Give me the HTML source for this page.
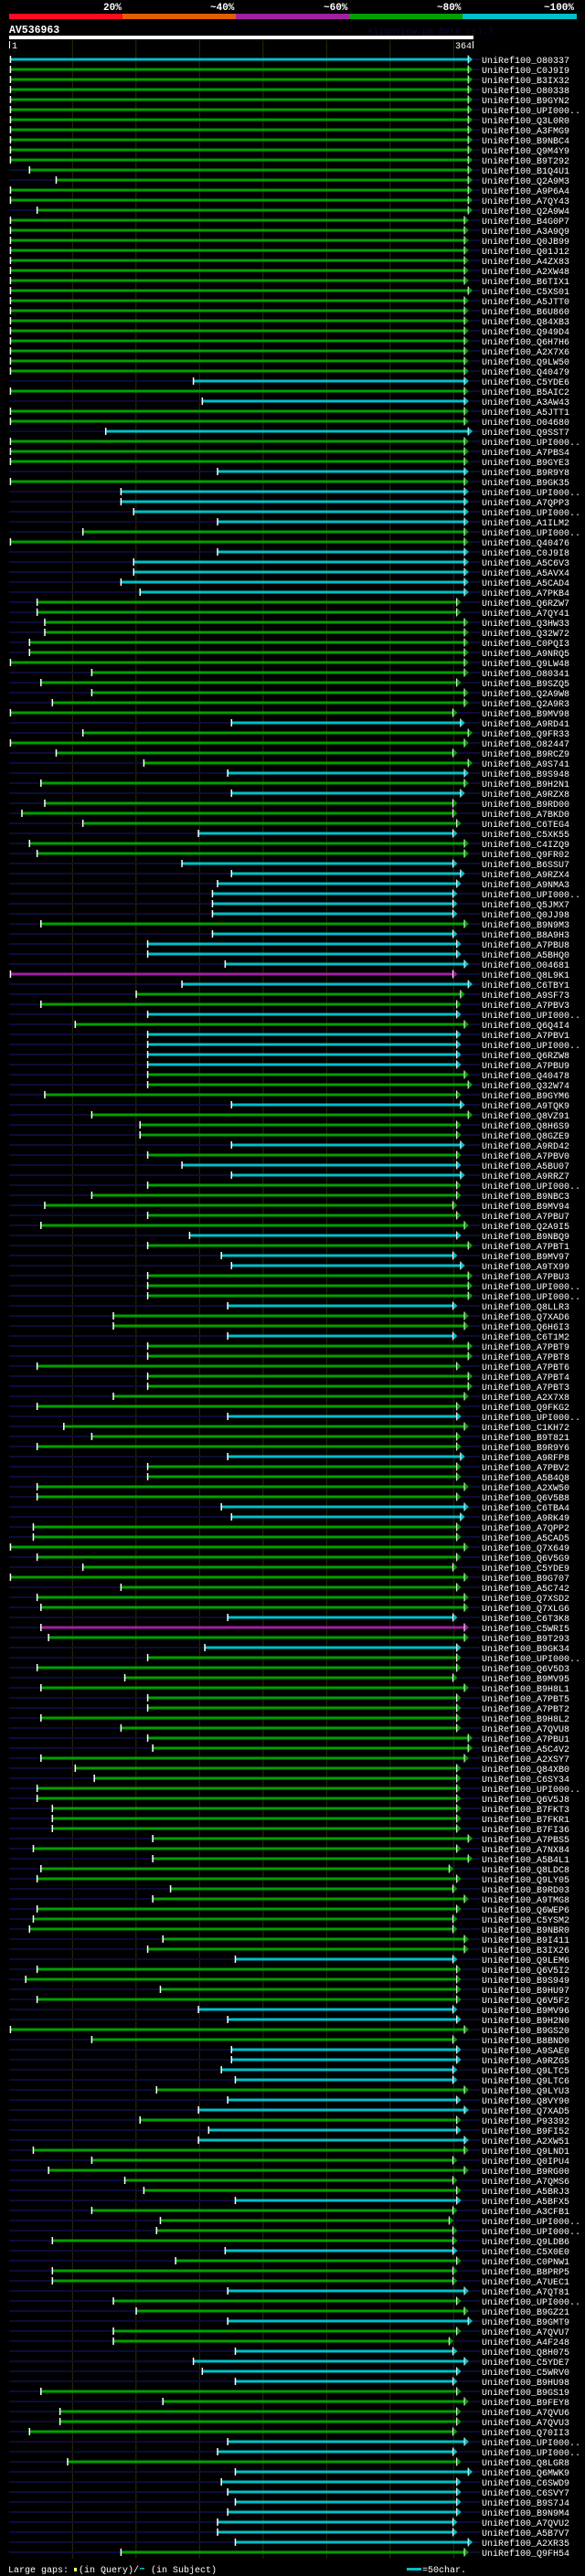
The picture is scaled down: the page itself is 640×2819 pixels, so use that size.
<!DOCTYPE html>
<html><head><meta charset="utf-8">
<style>
html,body{margin:0;padding:0;background:#000;}
body{width:640px;height:2819px;overflow:hidden;position:relative;}
svg{position:absolute;left:0;top:0;}
text{font-family:"Liberation Mono",monospace;}
</style></head>
<body>
<svg id="chart" width="640" height="2819" viewBox="0 0 640 2819" xmlns="http://www.w3.org/2000/svg">
  <rect x="0" y="0" width="640" height="2819" fill="#000"/>
  <g>
    <rect x="10" y="15" width="124" height="6" fill="#ff0a20"/>
    <rect x="134" y="15" width="124" height="6" fill="#e06000"/>
    <rect x="258" y="15" width="124" height="6" fill="#a020a0"/>
    <rect x="382" y="15" width="124" height="6" fill="#00a000"/>
    <rect x="506" y="15" width="125" height="6" fill="#00c0c8"/>
    <text x="113" y="11" fill="#fff" font-size="11" font-weight="bold">20%</text>
    <text x="230" y="11" fill="#fff" font-size="11" font-weight="bold">~40%</text>
    <text x="354" y="11" fill="#fff" font-size="11" font-weight="bold">~60%</text>
    <text x="478" y="11" fill="#fff" font-size="11" font-weight="bold">~80%</text>
    <text x="595" y="11" fill="#fff" font-size="11" font-weight="bold">~100%</text>
  </g>
  <text x="10" y="36" fill="#fff" font-size="11.5" font-weight="bold">AV536963</text>
  <text x="402" y="37" fill="#0a0a40" font-size="10">AlignView.pm Beta rel.7</text>
  <rect x="10" y="39" width="508" height="4" fill="#fff"/>
  <rect x="10" y="45" width="1" height="8" fill="#fff"/>
  <text x="13" y="53" fill="#fff" font-size="10">1</text>
  <text x="516" y="53" fill="#fff" font-size="10" text-anchor="end">364</text>
  <rect x="517" y="45" width="1" height="8" fill="#fff"/>
  <g id="grid"></g>
  <g id="rows"></g>
  <g>
    <text x="9" y="2815" fill="#fff" font-size="10">Large gaps:</text>
    <rect x="81" y="2810" width="3" height="4" fill="#ffff60"/>
    <text x="86" y="2815" fill="#fff" font-size="10">(in Query)/</text>
    <rect x="153" y="2810" width="5" height="1.5" fill="#00c0c8"/>
    <text x="165" y="2815" fill="#fff" font-size="10">(in Subject)</text>
    <rect x="445" y="2810" width="16" height="3" fill="#00c0c8"/>
    <text x="462" y="2815" fill="#fff" font-size="10">=50char.</text>
  </g>
</svg>
<script>
const names = ["O80337","C0J9I9","B3IX32","O80338","B9GYN2","UPI000..","Q3L0R0","A3FMG9","B9NBC4","Q9M4Y9","B9T292","B1Q4U1","Q2A9M3","A9P6A4","A7QY43","Q2A9W4","B4G0P7","A3A9Q9","Q0JB99","Q01J12","A4ZX83","A2XW48","B6TIX1","C5XS01","A5JTT0","B6U860","Q84XB3","Q949D4","Q6H7H6","A2X7X6","Q9LW50","Q40479","C5YDE6","B5AIC2","A3AW43","A5JTT1","O04680","Q9SST7","UPI000..","A7PBS4","B9GYE3",
"B9R9Y8","B9GK35","UPI000..","A7QPP3","UPI000..","A1ILM2","UPI000..","Q40476","C0J9I8","A5C6V3","A5AVX4","A5CAD4","A7PKB4","Q6RZW7","A7QY41","Q3HW33","Q32W72","C0PQI3","A9NRQ5","Q9LW48","O80341","B9SZQ5","Q2A9W8","Q2A9R3","B9MV98","A9RD41","Q9FR33","O82447","B9RCZ9","A9S741","B9S948","B9H2N1","A9RZX8","B9RD00","A7BKD0","C6TEG4","C5XK55","C4IZQ9","Q9FR02","B6SSU7","A9RZX4",
"A9NMA3","UPI000..","Q5JMX7","Q0JJ98","B9N9M3","B8A9H3","A7PBU8","A5BHQ0","O04681","Q8L9K1","C6TBY1","A9SF73","A7PBV3","UPI000..","Q6Q4I4","A7PBV1","UPI000..","Q6RZW8","A7PBU9","Q40478","Q32W74","B9GYM6","A9TQK9","Q8VZ91","Q8H6S9","Q8GZE9","A9RD42","A7PBV0","A5BU07","A9RRZ7","UPI000..","B9NBC3","B9MV94","A7PBU7","Q2A9I5","B9NBQ9","A7PBT1","B9MV97","A9TX99","A7PBU3","UPI000..","UPI000..",
"Q8LLR3","Q7XAD6","Q6H6I3","C6T1M2","A7PBT9","A7PBT8","A7PBT6","A7PBT4","A7PBT3","A2X7X8","Q9FKG2","UPI000..","C1KH72","B9T821","B9R9Y6","A9RFP8","A7PBV2","A5B4Q8","A2XW50","Q6V5B8","C6TBA4","A9RK49","A7QPP2","A5CAD5","Q7X649","Q6V5G9","C5YDE9","B9G707","A5C742","Q7XSD2","Q7XLG6","C6T3K8","C5WRI5","B9T293","B9GK34","UPI000..","Q6V5D3","B9MV95","B9H8L1","A7PBT5","A7PBT2",
"B9H8L2","A7QVU8","A7PBU1","A5C4V2","A2XSY7","Q84XB0","C6SY34","UPI000..","Q6V5J8","B7FKT3","B7FKR1","B7FI36","A7PBS5","A7NX84","A5B4L1","Q8LDC8","Q9LY05","B9RD03","A9TMG8","Q6WEP6","C5YSM2","B9NBR0","B9I411","B3IX26","Q9LEM6","Q6V5I2","B9S949","B9HU97","Q6V5F2","B9MV96","B9H2N0","B9GS20","B8BND0","A9SAE0","A9RZG5","Q9LTC5","Q9LTC6","Q9LYU3","Q8VY90","Q7XAD5","P93392","B9FI52",
"A2XW51","Q9LND1","Q0IPU4","B9RG00","A7QMS6","A5BRJ3","A5BFX5","A3CFB1","UPI000..","UPI000..","Q9LDB6","C5X0E0","C0PNW1","B8PRP5","A7UEC1","A7QT81","UPI000..","B9GZ21","B9GMT9","A7QVU7","A4F248","Q8H075","C5YDE7","C5WRV0","B9HU98","B9GS19","B9FEY8","A7QVU6","A7QVU3","Q70II3","UPI000..","UPI000..","Q8LGR8","Q6MWK9","C6SWD9","C6SVY7","B9S7J4","B9N9M4","A7QVU2","A5B7V7","A2XR35","Q9FH54"];

const starts = [1,1,1,1,1,1,1,1,1,1,1,16,37,1,1,22,1,1,1,1,1,1,1,1,1,1,1,1,1,1,1,1,
145,1,152,1,1,76,1,1,1,164,1,88,88,98,164,58,1,164,98,98,88,103,22,22,28,28,16,16,1,65,25,65,34,1,175,58,1,37,106,172,25,175,28,10,58,149,16,22,136,175,164,
160,160,160,25,160,109,109,170,1,136,100,25,109,52,109,109,109,109,109,109,28,175,65,103,103,175,109,136,175,109,65,28,109,25,142,109,167,175,109,109,109,172,82,82,172,109,109,22,109,109,82,22,172,43,65,22,172,109,109,22,22,167,175,19,19,1,22,58,1,88,22,25,172,25,31,154,109,22,91,25,109,109,25,
88,109,113,25,52,67,22,22,34,34,34,113,19,113,25,22,127,113,22,19,16,121,109,178,22,13,119,22,149,172,1,65,175,175,167,178,116,172,149,103,157,149,19,65,31,91,106,178,65,119,116,34,170,131,34,34,172,82,100,172,82,82,178,145,152,178,25,121,40,40,16,172,164,46,178,167,172,178,172,164,164,178,88];

const ends = [365,365,365,365,365,365,365,365,365,365,365,365,365,365,365,365,
362,362,362,362,362,362,362,365,362,362,362,362,362,362,362,362,
362,362,362,362,362,365,362,362,362,362,362,362,362,362,362,362,362,362,362,362,362,362,
356,356,362,362,362,362,362,362,356,362,362,353,359,365,362,353,365,362,362,359,353,353,356,353,362,362,353,359,356,
353,353,353,362,353,356,356,362,353,365,359,356,356,362,356,356,356,356,362,365,356,359,365,356,356,359,356,356,359,356,356,353,356,362,356,365,353,359,365,365,365,353,362,362,353,365,365,356,365,365,362,356,356,362,356,356,359,356,356,362,356,362,359,356,356,362,356,353,362,356,362,362,353,362,362,356,356,356,353,362,356,356,356,
356,365,365,362,356,356,356,356,356,356,356,365,356,365,350,356,353,362,356,353,353,362,362,353,356,356,356,356,353,356,362,353,356,356,353,353,362,356,362,356,356,362,362,353,362,353,356,356,353,350,353,353,353,356,353,353,362,356,362,365,356,350,353,362,356,353,356,362,356,356,353,362,353,356,365,356,356,356,356,353,353,365,362];

const cyanRows = [0,32,34,37,41,43,44,45,46,49,50,51,52,53,66,71,73,77,80,81,82,83,84,85,87,88,89,90,92,95,97,98,99,100,104,108,110,111,117,119,120,124,127,135,139,144,145,155,158,189,194,195,198,199,200,201,203,204,206,207,213,218,222,225,228,229,230,231,237,238,240,241,242,243,244,245,246,247];
const magentaRows = [91,156];
const gridTicks = [50,100,150,200,250,300,350];

const NS = "http://www.w3.org/2000/svg";
function xPos(p){ return 9.8 + p*1.39; }
function yRow(i){ return 65 + i*11; }
function mk(tag, attrs){ const e=document.createElementNS(NS,tag); for(const k in attrs) e.setAttribute(k,attrs[k]); return e; }

const grid = document.getElementById('grid');
gridTicks.forEach(t=>{
  const l = mk('line',{x1:xPos(t),x2:xPos(t),y1:44,y2:2800,stroke:'#2e2e00','stroke-width':1});
  
  
  grid.appendChild(l);
});

const rowsG = document.getElementById('rows');
names.forEach((nm,i)=>{
  const y = yRow(i);
  const col = magentaRows.includes(i) ? '#a020a0' : (cyanRows.includes(i) ? '#00c0c8' : '#00a000');
  const g = mk('g',{});
  
  
  const sx = xPos(starts[i]), tip = xPos(ends[i]);
  if(starts[i] > 2){
    const ln = mk('rect',{x:10,y:y-1,width:sx-10,height:2,fill:'#0c0c38'});
    
    
    g.appendChild(ln);
  }
  const rn = mk('rect',{x:tip,y:y-1,width:Math.max(0,525-tip),height:2,fill:'#0c0c38'});
  
  
  g.appendChild(rn);
  const bar = mk('rect',{x:sx,y:y-1.5,width:tip-5-sx,height:3,fill:col});
  
  
  g.appendChild(bar);
  const tick = mk('rect',{x:sx-0.5,y:y-4,width:1.5,height:8,fill:'#fff'});
  
  
  g.appendChild(tick);
  const tri = mk('polygon',{points:`${tip-5},${y-4.5} ${tip},${y} ${tip-5},${y+4.5}`,fill:col});
  
  
  g.appendChild(tri);
  const tl = mk('rect',{x:tip-5.5,y:y-4.5,width:1,height:9,fill:'#fff'});
  
  
  g.appendChild(tl);
  const tx = mk('text',{x:527,y:y+4,fill:'#fff','font-size':10});
  
  
  tx.textContent = 'UniRef100_' + nm;
  g.appendChild(tx);
  rowsG.appendChild(g);
});
</script>
</body></html>
